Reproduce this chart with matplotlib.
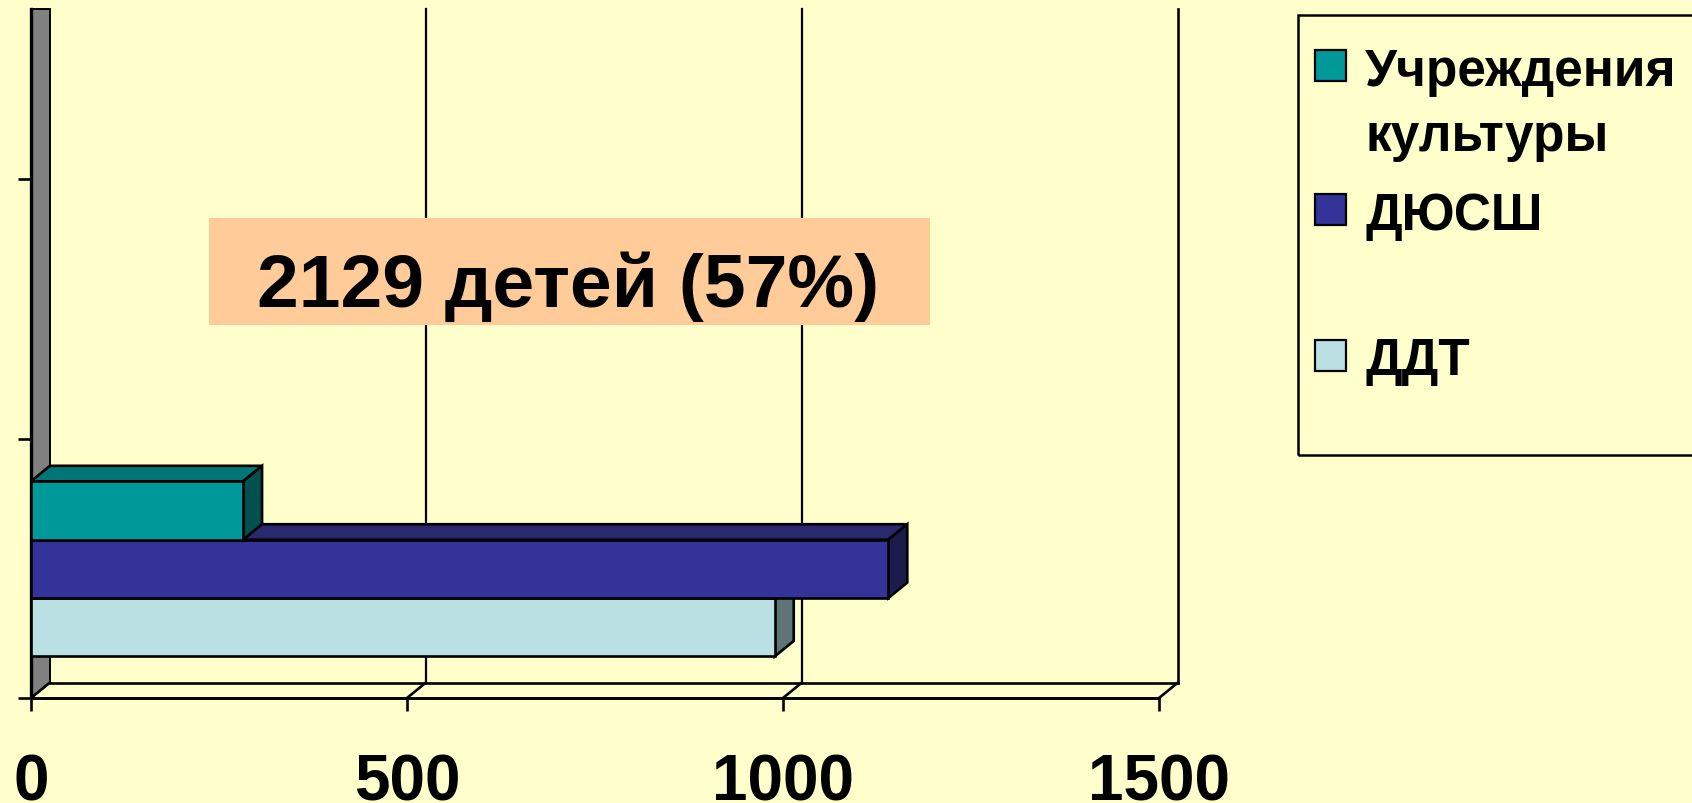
import matplotlib
matplotlib.use("Agg")
import matplotlib.pyplot as plt
from matplotlib.patches import Polygon, Rectangle

# data
series = ["Учреждения\nкультуры", "ДЮСШ", "ДДТ"]
values = [282, 1140, 989]
face_colors = ["#009999", "#333399", "#BBE0E3"]
top_colors = ["#007777", "#292970", "#9CC0C3"]
side_colors = ["#005050", "#1C1C4C", "#5F7475"]
x_ticks = [0, 500, 1000, 1500]
y_ticks = [0, 1, 2]
note = "2129 детей (57%)"

W, H = 1692, 804
BG = "#FFFFCC"
FONT = "Liberation Sans"
SLOT = 259.5  # px per category slot


def fx(x):
    return x / W


def fy(y):
    return 1 - y / H


fig = plt.figure(figsize=(W / 100, H / 100), dpi=100, facecolor=BG)
ax = fig.add_axes([fx(31), fy(699), 1128 / W, 689 / H])
ax.set_facecolor("none")
ax.set_xlim(0, 1500)
ax.set_ylim(0, 689 / SLOT)
top = ax.get_ylim()[1]

# 3d depth in data units
DX = 19 * 1500 / 1128
DY = 15.5 / SLOT
lw = 1.9

# grey wall
ax.add_patch(Polygon([(0, 0), (DX, DY), (DX, top), (0, top)], closed=True,
                     facecolor="#808080", edgecolor="black", lw=1.4,
                     clip_on=False, zorder=1))
# floor and back grid
ax.plot([DX, 1500 + DX], [DY, DY], color="black", lw=lw, clip_on=False, zorder=1)
for v in x_ticks:
    ax.plot([v, v + DX], [0, DY], color="black", lw=lw, clip_on=False, zorder=1)
    if v > 0:
        ax.plot([v + DX, v + DX], [DY, top], color="black", lw=1.6 if v < 1500 else lw,
                clip_on=False, zorder=1)

# bars, bottom one first so upper faces lie over lower tops
h = 0.225
bottoms = [0.61, 0.385, 0.16]
for i in [2, 1, 0]:
    v, b = values[i], bottoms[i]
    z = 4 + (2 - i) * 2
    ax.barh(b, v, height=h, align="edge", color=face_colors[i],
            edgecolor="black", lw=lw, zorder=z)
    ax.add_patch(Polygon([(0, b + h), (v, b + h), (v + DX, b + h + DY), (DX, b + h + DY)],
                         closed=True, facecolor=top_colors[i], edgecolor="black",
                         lw=lw, clip_on=False, zorder=z - 0.5))
    ax.add_patch(Polygon([(v, b), (v + DX, b + DY), (v + DX, b + h + DY), (v, b + h)],
                         closed=True, facecolor=side_colors[i], edgecolor="black",
                         lw=lw, clip_on=False, zorder=z - 0.5))

# axes
for s in ["top", "right"]:
    ax.spines[s].set_visible(False)
ax.spines["left"].set_linewidth(2.4)
ax.spines["bottom"].set_linewidth(2.1)
ax.set_yticks(y_ticks)
ax.set_yticklabels([])
ax.set_xticks(x_ticks)
ax.set_xticklabels([str(t) for t in x_ticks], fontsize=46, fontweight="bold", family=FONT)
ax.tick_params(axis="both", direction="out", length=9.4, width=lw, color="black")
ax.tick_params(axis="x", pad=30)

# note box
fig.add_artist(Rectangle((fx(209), fy(326)), (930 - 209) / W, (326 - 219) / H,
                         transform=fig.transFigure, facecolor="#FFCC99",
                         edgecolor="none", zorder=5))
fig.text(fx(568), fy(307), note, ha="center", va="baseline", fontsize=54,
         fontweight="bold", family=FONT, zorder=6)

# legend
fig.add_artist(Rectangle((fx(1298), fy(456)), (1720 - 1298) / W, (456 - 16) / H,
                         transform=fig.transFigure, facecolor="none",
                         edgecolor="black", lw=1.8, zorder=5))
square_y = [67, 211, 357]
baselines = [[86, 151], [230], [375]]
for i, name in enumerate(series):
    fig.add_artist(Rectangle((fx(1315), fy(square_y[i] + 15)), 31 / W, 31 / H,
                             transform=fig.transFigure, facecolor=face_colors[i],
                             edgecolor="black", lw=1.6, zorder=6))
    for line, yb in zip(name.split("\n"), baselines[i]):
        fig.text(fx(1365), fy(yb), line, ha="left", va="baseline", fontsize=37,
                 fontweight="bold", family=FONT, zorder=6)

fig.savefig("out.png", dpi=100, facecolor=BG)
